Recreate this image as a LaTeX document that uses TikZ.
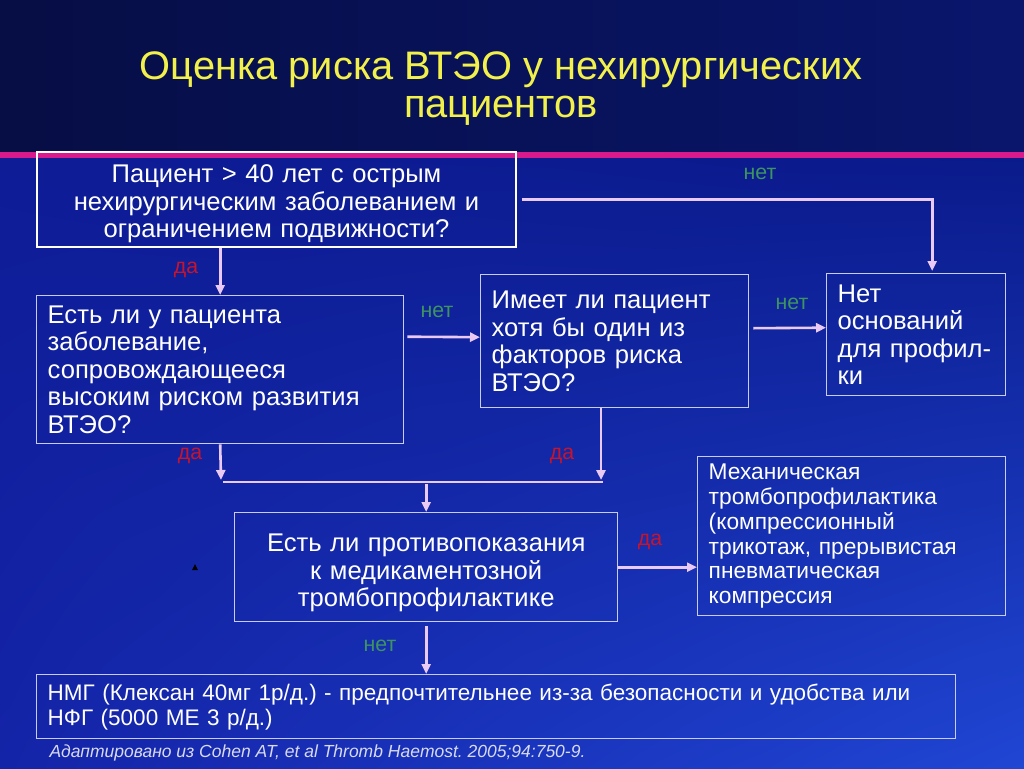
\documentclass[tikz,border=0pt]{standalone}
\usepackage{fontspec}
\setmainfont{Liberation Sans}
\usetikzlibrary{arrows.meta,calc,shadings}
\definecolor{titley}{HTML}{F2F04A}
\definecolor{pinkline}{HTML}{D81A8C}
\definecolor{arrc}{HTML}{EACAF2}
\definecolor{boxc}{HTML}{C8CCF2}
\definecolor{dared}{HTML}{C8142A}
\definecolor{netgreen}{HTML}{3E9460}
\definecolor{footc}{HTML}{D8DAEE}
\definecolor{tb0}{HTML}{000002}
\definecolor{tb1}{HTML}{060C3C}
\definecolor{tb2}{HTML}{0A1A80}
\definecolor{lotl}{HTML}{0E1C96}
\definecolor{lotr}{HTML}{0A1A8A}
\definecolor{lobl}{HTML}{1424A8}
\definecolor{lobr}{HTML}{2046D4}
\pgfdeclarehorizontalshading{topband}{100bp}{color(0bp)=(tb0); color(4bp)=(tb0); color(14bp)=(tb1); color(100bp)=(tb2)}
\begin{document}
\frenchspacing
\begin{tikzpicture}[x=1pt,y=-1pt,
  box/.style={draw=boxc,line width=1.4pt,rectangle,anchor=north west,inner xsep=11pt,inner ysep=0pt,text=white,font=\fontsize{25.6}{27.5}\selectfont},
  arr/.style={draw=arrc,line width=2.6pt,-{Triangle[length=10pt,width=9pt]}},
  conn/.style={draw=arrc,line width=2.6pt},
  yes/.style={text=dared,font=\fontsize{21.3}{24}\selectfont},
  no/.style={text=netgreen,font=\fontsize{21.3}{24}\selectfont},
  ttl/.style={text=titley,font=\fontsize{39.8}{42}\selectfont,anchor=base}]
\useasboundingbox (0,0) rectangle (1024,768);
% background
\shade[shading=topband] (0,0) rectangle (1024,155);
\shade[upper left=lotl,upper right=lotr,lower left=lobl,lower right=lobr] (0,155) rectangle (1024,768);
\draw[pinkline,line width=5.5pt] (0,155) -- (1024,155);
% title
\node[ttl] (title1) at (501,79) {Оценка риска ВТЭО у нехирургических};
\node[ttl] (title2) at (501,117) {пациентов};
% boxes
\node[box,draw=white,line width=2pt,minimum width=479pt,minimum height=95pt,text width=457pt,align=center] (A) at (36,151) {\rule{0pt}{27pt}Пациент > 40 лет с острым\\нехирургическим заболеванием и\\ограничением подвижности?};
\node[box,minimum width=367pt,minimum height=148pt,text width=345pt,align=left] (B) at (36,295) {Есть ли у пациента\\заболевание,\\сопровождающееся\\высоким риском развития\\ВТЭО?};
\node[box,minimum width=268pt,minimum height=133pt,text width=246pt,align=left] (C) at (480,274) {Имеет ли пациент\\хотя бы один из\\факторов риска\\ВТЭО?};
\node[box,minimum width=179pt,minimum height=122pt,text width=157pt,align=left] (D) at (826,273) {Нет\\оснований\\для профил-\\ки};
\node[box,minimum width=383pt,minimum height=109pt,text width=361pt,align=center] (E) at (234,512) {\rule{0pt}{29pt}Есть ли противопоказания\\к медикаментозной\\тромбопрофилактике};
\node[box,minimum width=308pt,minimum height=159pt,text width=286pt,align=left,font=\fontsize{22.75}{24.8}\selectfont] (F) at (697,456) {Механическая\\тромбопрофилактика\\(компрессионный\\трикотаж, прерывистая\\пневматическая\\компрессия};
\node[box,minimum width=919pt,minimum height=64pt,text width=897pt,align=left,font=\fontsize{22.5}{25}\selectfont] (G) at (36,674) {НМГ (Клексан 40мг 1р/д.) - предпочтительнее из-за безопасности и удобства или\\НФГ (5000 МЕ 3 р/д.)};
\node[text=footc,font=\fontsize{17.5}{20}\selectfont\itshape,anchor=west] (foot) at (46,753) {Адаптировано из Cohen AT, et al Thromb Haemost. 2005;94:750-9.};
% junction coordinates
\coordinate (j1) at (221,480);
\coordinate (j2) at (601,480);
% connectors
\draw[arr] (B.north |- A.south) -- (B.north);
\node[yes] (l1) at (186,270) {да};
\draw[arr] ($(A.east)+(5,0)$) -| ($(D.north)+(16,-2)$);
\node[no] (l2) at (760,174) {нет};
\draw[arr] ($(B.east)+(3,-33)$) -- ($(C.west)+(0,-4)$);
\node[no] (l3) at (437,312) {нет};
\draw[arr] ($(C.east)+(4,-13)$) -- ($(D.west)+(0,-7)$);
\node[no] (l4) at (792,304) {нет};
\draw[arr] (B.south) -- (j1);
\node[yes] (l5) at (190,456) {да};
\draw[arr] (C.south -| j2) -- (j2);
\node[yes] (l6) at (562,456) {да};
\draw[conn] ($(j1)+(2,2)$) -- ($(j2)+(2,2)$);
\draw[arr] ($(E.north |- j1)+(0,4)$) -- (E.north);
\draw[arr] (E.east) -- (E.east -| F.west);
\node[yes] (l7) at (650,542) {да};
\draw[arr] ($(E.south)+(0,4)$) -- (E.south |- G.north);
\node[no] (l8) at (380,646) {нет};
% stray marker
\fill[black] (192,570) -- (198,570) -- (195,564) -- cycle;
\end{tikzpicture}
\end{document}
